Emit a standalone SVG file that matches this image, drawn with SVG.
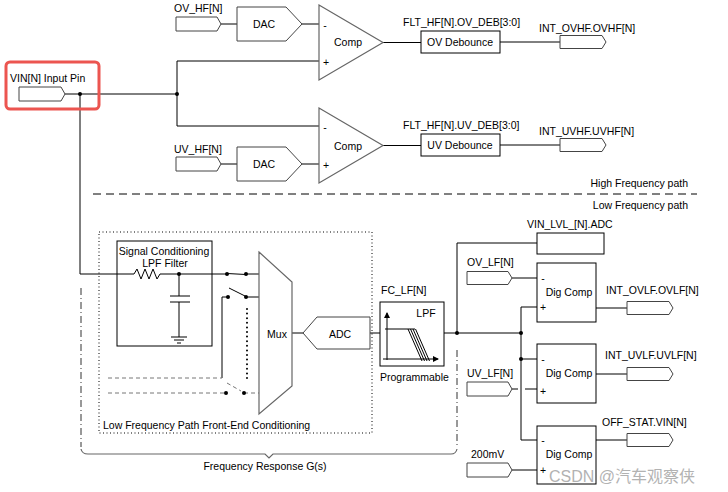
<svg xmlns="http://www.w3.org/2000/svg" width="728" height="492" viewBox="0 0 728 492">
<style>
.w{fill:none;stroke:#000;stroke-width:1}
.gd{fill:none;stroke:#777;stroke-width:1;stroke-dasharray:4 3}
.pin{fill:#fff;stroke:#444;stroke-width:1}
.blk{fill:#fff;stroke:#000;stroke-width:1}
.frame{fill:none;stroke:#000;stroke-width:1}
.gry{fill:#fff;stroke:#666;stroke-width:1.2}
.dot{fill:#000}
text{font-family:"Liberation Sans",Arial,sans-serif;font-size:10.5px;fill:#000}
.c{text-anchor:middle}
.e{text-anchor:end}
</style>
<defs>
<marker id="ar" markerWidth="6" markerHeight="6" refX="5" refY="3" orient="auto" markerUnits="userSpaceOnUse">
<path d="M0,0 L6,3 L0,6 Z" fill="#000"/>
</marker>
</defs>
<rect width="728" height="492" fill="#fff"/>

<!-- section separators -->
<g id="separators">
<path d="M93,194 H697" class="w" stroke-dasharray="8 5"/>
<text x="688" y="187" class="e">High Frequency path</text>
<text x="688" y="209" class="e">Low Frequency path</text>
<rect x="99" y="232" width="273" height="201" fill="none" stroke="#000" stroke-width="1" stroke-dasharray="1 2.5"/>
<text x="103" y="429">Low Frequency Path Front-End Conditioning</text>
<path d="M81,288 V447 M457,350 V447" fill="none" stroke="#333" stroke-width="1" stroke-dasharray="7 3 1 3"/>
<path d="M81,449 Q82,454 88,454 L265,454 L269,458 L273,454 L451,454 Q456,454 457,449" fill="none" stroke="#666" stroke-width="1.2"/>
<text x="265" y="470" class="c">Frequency Response G(s)</text>
</g>

<!-- connectors -->
<g id="connectors">
<path class="w" d="M65,94 H177 M177,61 V126 M177,61 H319 M177,126 H319"/>
<path class="w" d="M221,24 H237 M302,24 H319 M221,164 H237 M302,164 H319"/>
<path class="w" d="M383,42.5 H421 M500,42 H560 M383,145.5 H421 M500,145 H560"/>
<path class="w" d="M80,94 V274 H134 M134,274 L137,269 L141,279 L145,269 L149,279 L153,269 L157,279 L160,274 H227"/>
<path class="w" d="M179,274 V296 M170,296 H190 M170,302 H190 M179,302 V337 M171,337 H187 M174,340 H184 M177,343 H181"/>
<path class="w" d="M227,273.5 L246,274.5 M246,274 H259"/>
<path class="w" d="M228,297 H222 V378 M229,288 L245,296 M246,297 H259"/>
<path class="gd" d="M108,378 H222 M108,393 H226 M227,383 L241,391 M244,393 H259"/>
<line x1="247" y1="309" x2="247" y2="378" stroke="#000" stroke-width="2" stroke-linecap="round" stroke-dasharray="0 4.6"/>
<path class="w" d="M292,333 H303 M370,333 H380 M444,333 H521 M457,333 V243 H537"/>
<path class="w" d="M537,307 H521 V440 H537 M521,359 H537"/>
<path class="w" d="M512,278 H537 M512,389 H518 M525,389 H537 M512,470 H537"/>
<path class="w" d="M596,308 H627 M596,374 H627 M596,440 H627"/>
<g class="dot">
<circle cx="80" cy="94" r="2"/><circle cx="177" cy="94" r="2"/>
<circle cx="179" cy="274" r="2"/><circle cx="227" cy="274" r="2"/><circle cx="246" cy="274" r="2"/>
<circle cx="228" cy="297" r="2"/><circle cx="246" cy="297" r="2"/>
<circle cx="226" cy="393" r="2"/><circle cx="244" cy="393" r="2"/>
<circle cx="457" cy="333" r="2"/><circle cx="521" cy="333" r="2"/><circle cx="521" cy="359" r="2"/>
</g>
</g>

<!-- input pin -->
<g id="vin">
<rect x="6" y="62" width="93" height="47" rx="4" fill="none" stroke="#ec5550" stroke-width="3"/>
<text x="10" y="82">VIN[N] Input Pin</text>
<path class="pin" d="M19,87 H61 L65,94 L61,101 H19 Z"/>
</g>

<!-- HF OV path -->
<g id="ov_hf">
<text x="174" y="12">OV_HF[N]</text>
<path class="pin" d="M176,17 H217 L221,24 L217,31 H176 Z"/>
</g>
<g id="dac_ov">
<path class="pin" d="M237,7 H286 L302,24 L286,41 H237 Z"/>
<text x="264" y="28" class="c">DAC</text>
</g>
<g id="comp_ov">
<path class="gry" d="M319,5 L383,42.5 L319,80 Z"/>
<text x="325" y="29" class="c">-</text>
<text x="326" y="66" class="c">+</text>
<text x="348" y="46" class="c">Comp</text>
</g>
<g id="deb_ov">
<text x="403" y="26">FLT_HF[N].OV_DEB[3:0]</text>
<rect class="blk" x="421" y="31" width="79" height="22"/>
<text x="460" y="46" class="c">OV Debounce</text>
</g>
<g id="int_ovhf">
<text x="539" y="32">INT_OVHF.OVHF[N]</text>
<path class="pin" d="M560,35.5 H602 L606,42 L602,48.5 H560 Z"/>
</g>

<!-- HF UV path -->
<g id="uv_hf">
<text x="174" y="153">UV_HF[N]</text>
<path class="pin" d="M176,157 H217 L221,164 L217,171 H176 Z"/>
</g>
<g id="dac_uv">
<path class="pin" d="M237,147 H286 L302,164 L286,181 H237 Z"/>
<text x="264" y="168" class="c">DAC</text>
</g>
<g id="comp_uv">
<path class="gry" d="M319,108 L383,145.5 L319,183 Z"/>
<text x="325" y="131" class="c">-</text>
<text x="326" y="169" class="c">+</text>
<text x="348" y="150" class="c">Comp</text>
</g>
<g id="deb_uv">
<text x="403" y="129">FLT_HF[N].UV_DEB[3:0]</text>
<rect class="blk" x="421" y="134" width="79" height="22"/>
<text x="460" y="149" class="c">UV Debounce</text>
</g>
<g id="int_uvhf">
<text x="539" y="135">INT_UVHF.UVHF[N]</text>
<path class="pin" d="M560,138.5 H602 L606,145 L602,151.5 H560 Z"/>
</g>

<!-- LF front end -->
<g id="sig_cond">
<rect class="frame" x="117" y="241" width="95" height="105"/>
<text x="164" y="255" class="c">Signal Conditioning</text>
<text x="165" y="267" class="c">LPF Filter</text>
</g>
<g id="mux">
<path class="gry" d="M259,252 L292,282 L292,386 L259,414 Z"/>
<text x="277" y="338" class="c">Mux</text>
</g>
<g id="adc">
<path class="pin" d="M303,333 L317,317 H370 V349 H317 Z"/>
<text x="340" y="338" class="c">ADC</text>
</g>
<g id="lpf">
<text x="381" y="294">FC_LF[N]</text>
<rect class="blk" x="380" y="302" width="64" height="64"/>
<text x="426" y="317" class="c">LPF</text>
<path class="w" d="M387,360 V313" marker-end="url(#ar)"/>
<path class="w" d="M383,359 H438" marker-end="url(#ar)"/>
<path class="w" d="M385,329 H415 M408,329 L422,361 M410.5,329 L424.5,361 M413,329 L427,361 M415.5,329 L429.5,361"/>
<text x="380" y="381">Programmable</text>
</g>

<!-- LF outputs -->
<g id="vin_lvl">
<text x="527" y="228">VIN_LVL_[N].ADC</text>
<rect class="blk" x="537" y="233" width="67" height="21"/>
</g>
<g id="ov_lf">
<text x="467" y="266">OV_LF[N]</text>
<path class="pin" d="M467,271.5 H508 L512,278 L508,284.5 H467 Z"/>
</g>
<g id="digcomp_ov">
<rect class="blk" x="537" y="263" width="59" height="59"/>
<text x="543" y="282" class="c">-</text>
<text x="543" y="311" class="c">+</text>
<text x="569" y="296" class="c">Dig Comp</text>
</g>
<g id="int_ovlf">
<text x="606" y="294">INT_OVLF.OVLF[N]</text>
<path class="pin" d="M627,301.5 H669 L673,308 L669,314.5 H627 Z"/>
</g>
<g id="uv_lf">
<text x="467" y="377">UV_LF[N]</text>
<path class="pin" d="M467,382 H508 L512,389 L508,396 H467 Z"/>
</g>
<g id="digcomp_uv">
<rect class="blk" x="537" y="344" width="59" height="59"/>
<text x="543" y="363" class="c">-</text>
<text x="543" y="395" class="c">+</text>
<text x="569" y="377" class="c">Dig Comp</text>
</g>
<g id="int_uvlf">
<text x="605" y="359">INT_UVLF.UVLF[N]</text>
<path class="pin" d="M627,367.5 H669 L673,374 L669,380.5 H627 Z"/>
</g>
<g id="ref200">
<text x="471" y="458">200mV</text>
<path class="pin" d="M467,463 H508 L512,470 L508,477 H467 Z"/>
</g>
<g id="digcomp_off">
<rect class="blk" x="537" y="426" width="59" height="58"/>
<text x="543" y="444" class="c">-</text>
<text x="543" y="474" class="c">+</text>
<text x="569" y="458" class="c">Dig Comp</text>
</g>
<g id="off_stat">
<text x="602" y="426">OFF_STAT.VIN[N]</text>
<path class="pin" d="M627,433.5 H669 L673,440 L669,446.5 H627 Z"/>
</g>

<text x="549" y="482" style="font-family:'Liberation Sans','Noto Sans CJK SC',sans-serif;font-size:16px;fill:#999;opacity:0.75">CSDN @汽车观察侠</text>
</svg>
